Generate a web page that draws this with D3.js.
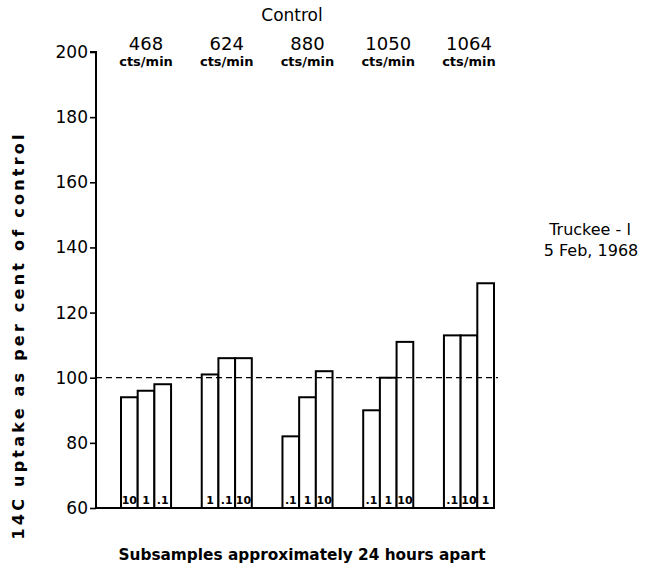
<!DOCTYPE html>
<html>
<head>
<meta charset="utf-8">
<script src="https://cdn.jsdelivr.net/npm/d3@7/dist/d3.min.js"></script>
<style>
  html, body { margin: 0; padding: 0; background: #fff; }
  svg { display: block; }
  text { font-family: "DejaVu Sans", sans-serif; fill: #000; }
</style>
</head>
<body>
<div id="chart"></div>
<script>
// ---- data ----
const groups = ["468", "624", "880", "1050", "1064"];
const groupUnit = "cts/min";
const barLabels = [
  ["10", "1", ".1"],
  ["1", ".1", "10"],
  [".1", "1", "10"],
  [".1", "1", "10"],
  [".1", "10", "1"]
];
const barValues = [
  [94, 96, 98],
  [101, 106, 106],
  [82, 94, 102],
  [90, 100, 111],
  [113, 113, 129]
];
const yTicks = [60, 80, 100, 120, 140, 160, 180, 200];
const referenceValue = 100;
const topTitle = "Control";
const yTitle = "14C uptake as per cent of control";
const xTitle = "Subsamples approximately 24 hours apart";
const noteLines = ["Truckee - l", "5 Feb, 1968"];

// ---- layout ----
const W = 649, H = 567;
const svg = d3.select("#chart").append("svg").attr("width", W).attr("height", H);

const axisX = 96;
const y = d3.scaleLinear().domain([60, 200]).range([508, 52]);
const x = d3.scaleBand().domain(groups).range([121, 494]).paddingInner(0.38).paddingOuter(0);
const xi = d3.scaleBand().domain([0, 1, 2]).range([0, x.bandwidth()]).padding(0);

// y axis
const yAxis = d3.axisLeft(y).tickValues(yTicks).tickSize(6).tickPadding(2).tickFormat(d3.format("d"));
const ga = svg.append("g").attr("transform", `translate(${axisX},0)`).call(yAxis);
ga.select(".domain").attr("stroke", "#000").attr("stroke-width", 2).attr("d", `M-6,${y(200)}H0V${y(60)}`);
ga.selectAll(".tick line").attr("stroke", "#000").attr("stroke-width", 1.6);
ga.selectAll(".tick text").attr("font-size", 17).attr("font-family", "DejaVu Sans, sans-serif").attr("fill", "#000");

// baseline
const lastEnd = x(groups[groups.length - 1]) + x.bandwidth();
svg.append("line")
  .attr("x1", axisX).attr("x2", lastEnd)
  .attr("y1", y(60)).attr("y2", y(60))
  .attr("stroke", "#000").attr("stroke-width", 2);

// bars
groups.forEach((g, gi) => {
  const gg = svg.append("g").attr("transform", `translate(${x(g)},0)`);
  gg.selectAll("rect").data(barValues[gi]).join("rect")
    .attr("x", (d, i) => xi(i))
    .attr("y", d => y(d))
    .attr("width", xi.bandwidth())
    .attr("height", d => y(60) - y(d))
    .attr("fill", "#fff").attr("stroke", "#000").attr("stroke-width", 2);
  gg.selectAll("text.bl").data(barLabels[gi]).join("text")
    .attr("class", "bl")
    .attr("x", (d, i) => xi(i) + xi.bandwidth() / 2)
    .attr("y", y(60) - 4)
    .attr("text-anchor", "middle")
    .attr("font-size", 11).attr("font-weight", "bold")
    .text(d => d);
  // top labels
  svg.append("text")
    .attr("x", x(g) + x.bandwidth() / 2).attr("y", 50)
    .attr("text-anchor", "middle").attr("font-size", 18)
    .text(g);
  svg.append("text")
    .attr("x", x(g) + x.bandwidth() / 2).attr("y", 66)
    .attr("text-anchor", "middle").attr("font-size", 13).attr("font-weight", "bold")
    .text(groupUnit);
});

// dashed reference line
svg.append("line")
  .attr("x1", axisX).attr("x2", 498)
  .attr("y1", y(referenceValue)).attr("y2", y(referenceValue))
  .attr("stroke", "#000").attr("stroke-width", 1.3)
  .attr("stroke-dasharray", "6,4");

// titles
svg.append("text").attr("x", 292).attr("y", 21).attr("text-anchor", "middle")
  .attr("font-size", 17).text(topTitle);

svg.append("text")
  .attr("transform", `translate(24,${337}) rotate(-90)`)
  .attr("text-anchor", "middle").attr("font-size", 16).attr("font-weight", "bold")
  .attr("textLength", 405).attr("lengthAdjust", "spacing")
  .text(yTitle);

svg.append("text").attr("x", 302).attr("y", 560).attr("text-anchor", "middle")
  .attr("font-size", 15).attr("font-weight", "bold")
  .attr("textLength", 367).attr("lengthAdjust", "spacingAndGlyphs")
  .text(xTitle);

svg.append("text").attr("x", 590).attr("y", 235).attr("text-anchor", "middle")
  .attr("font-size", 16).text(noteLines[0]);
svg.append("text").attr("x", 591).attr("y", 256).attr("text-anchor", "middle")
  .attr("font-size", 16).text(noteLines[1]);
</script>
</body>
</html>
